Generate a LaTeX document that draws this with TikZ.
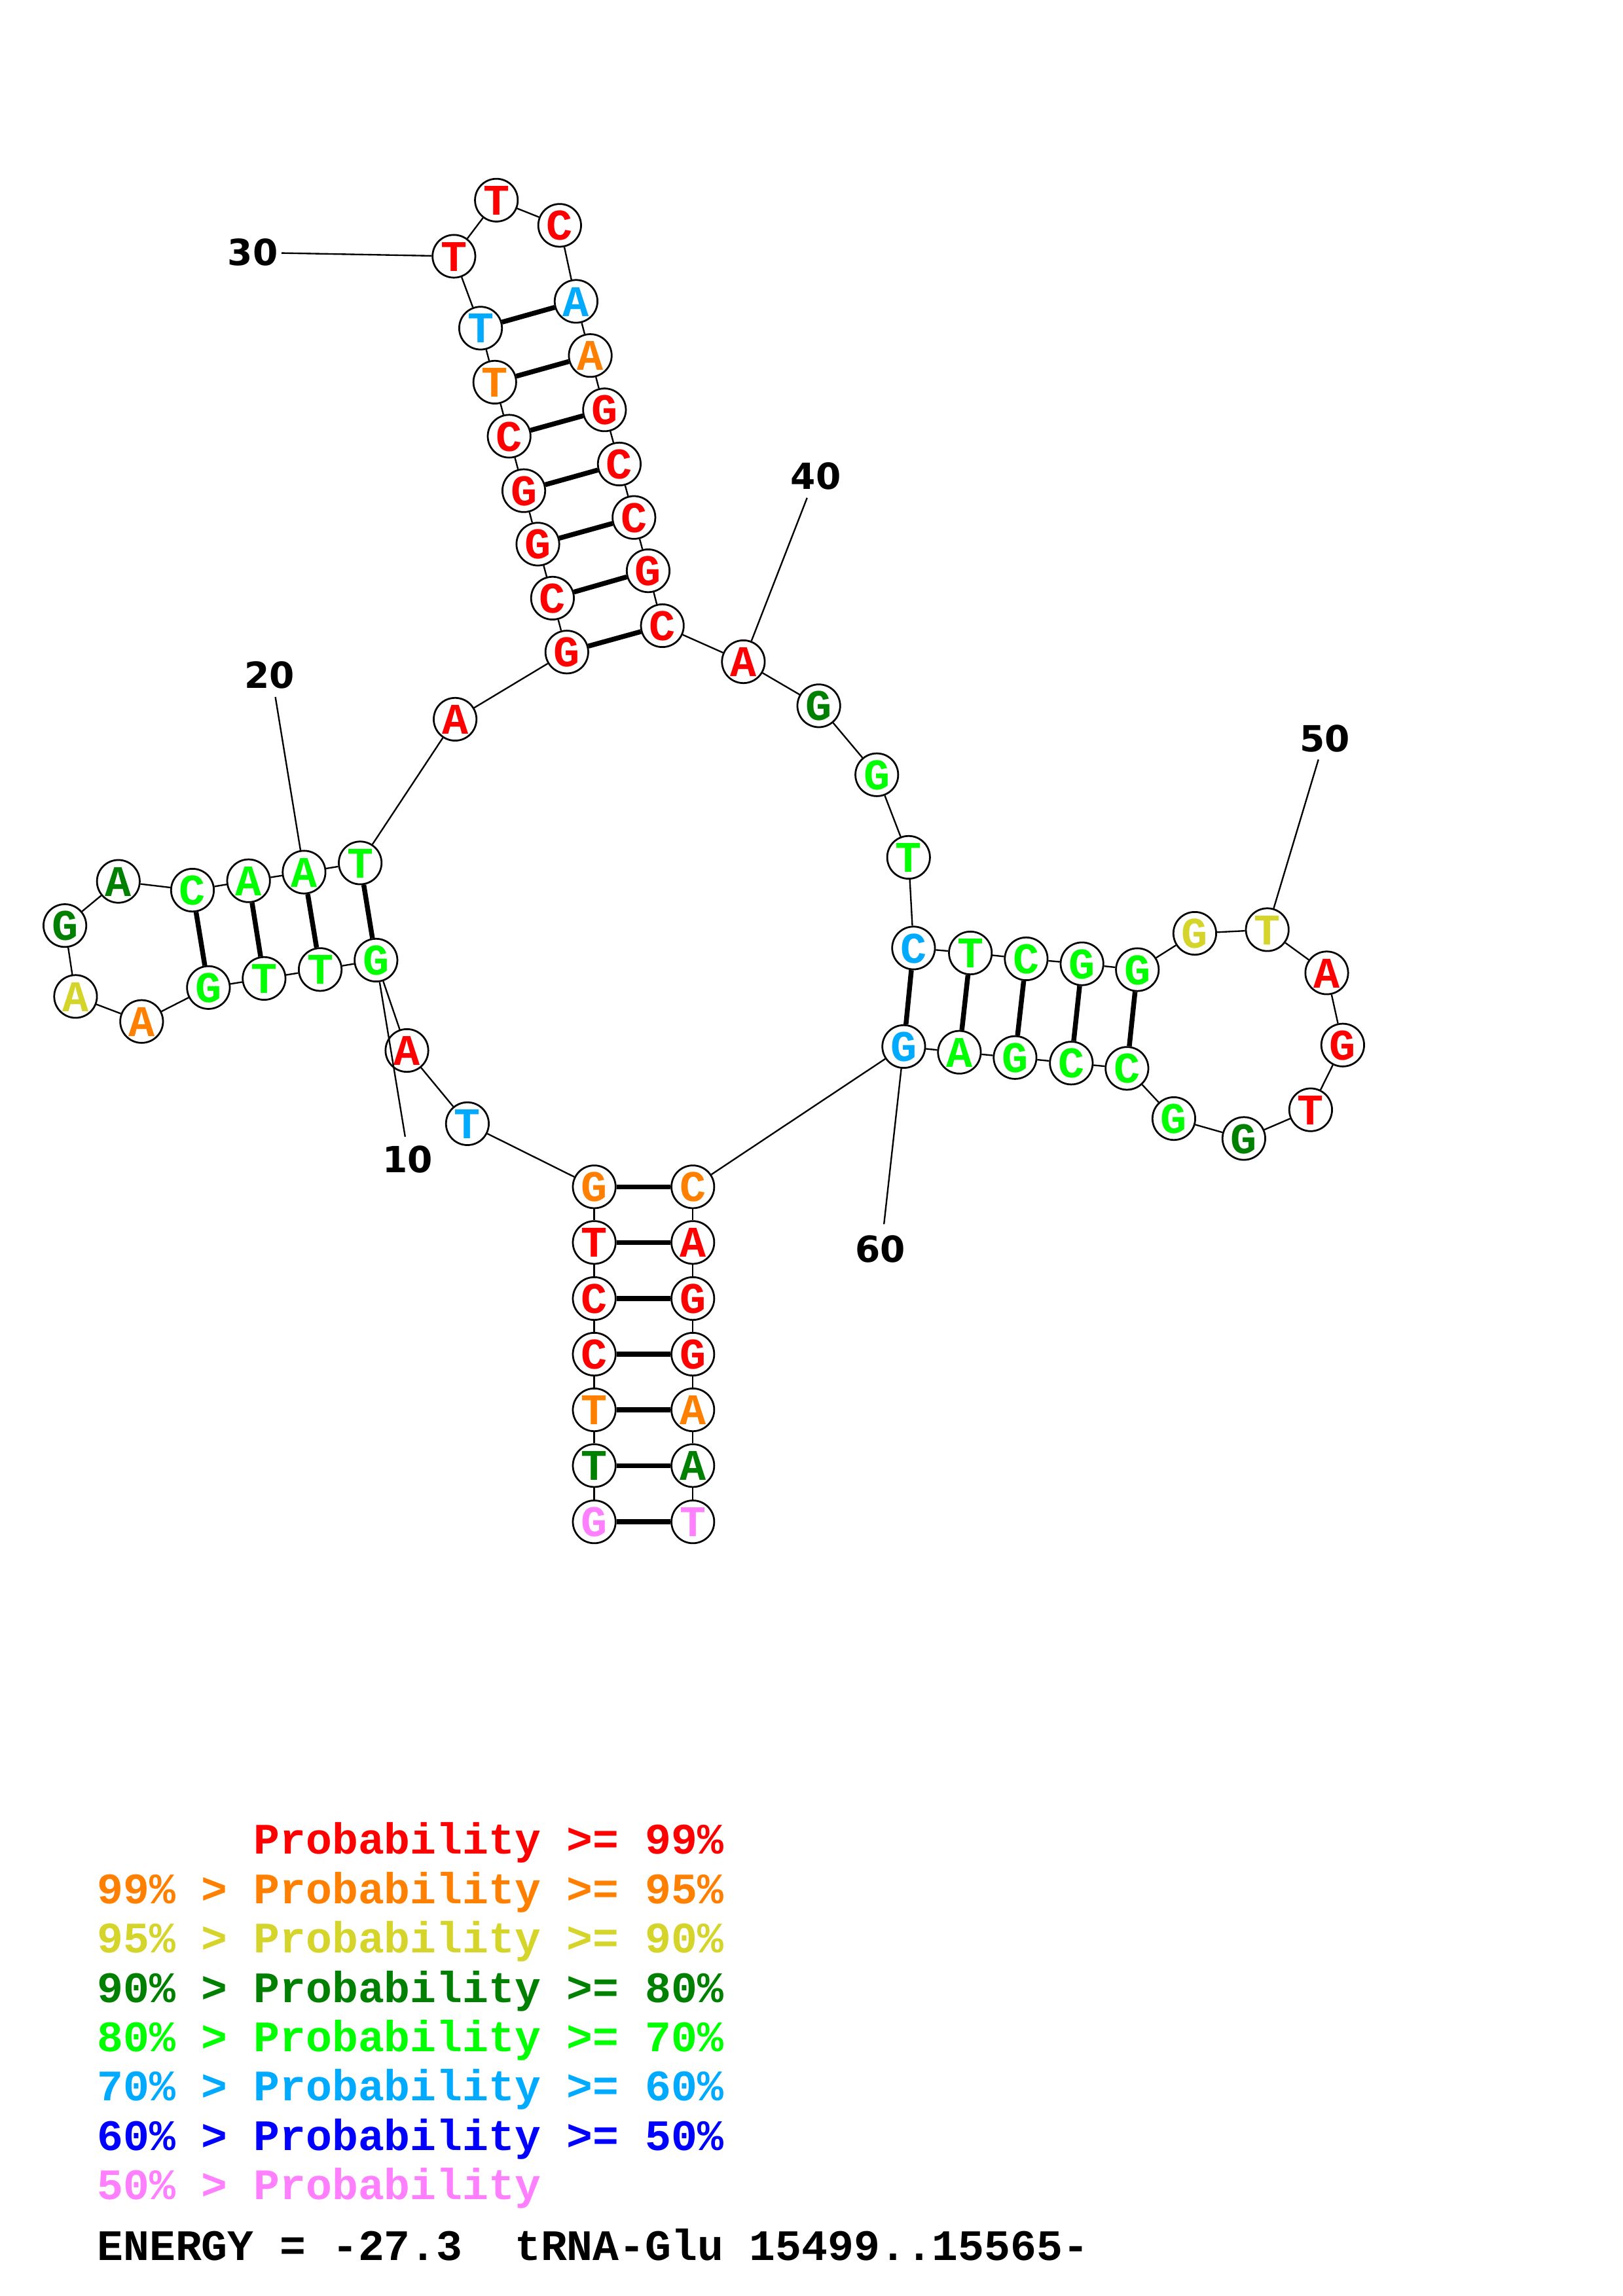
\documentclass[tikz,border=0pt]{standalone}
\usepackage{fontspec}
\newfontfamily\nucfont{Liberation Mono}
\newfontfamily\numfont{DejaVu Sans}
\definecolor{cred}{RGB}{255,0,0}
\definecolor{corange}{RGB}{255,128,0}
\definecolor{cyellow}{RGB}{212,212,42}
\definecolor{cdkgreen}{RGB}{0,128,0}
\definecolor{cgreen}{RGB}{0,255,0}
\definecolor{cltblue}{RGB}{0,170,255}
\definecolor{cblue}{RGB}{0,0,255}
\definecolor{cpink}{RGB}{255,128,255}
\begin{document}
\begin{tikzpicture}[x=0.02cm,y=-0.02cm,
  nt/.style={circle,draw,line width=0.7pt,fill=white,minimum size=0.584cm,inner sep=0pt,
    font=\nucfont\bfseries\fontsize{17}{17}\selectfont,text height=11.5pt,text depth=0pt},
  bb/.style={line width=0.6pt},
  bp/.style={line width=1.9pt},
  lbl/.style={font=\numfont\bfseries\fontsize{14}{14}\selectfont,inner sep=0pt},
  leg/.style={font=\nucfont\bfseries\fontsize{16.9}{16.9}\selectfont,anchor=base west,inner sep=0pt}]
\fill[white] (0,0) rectangle (1108,1568);
\useasboundingbox (0,0) rectangle (1108,1568);
% nucleotides
\foreach \i/\x/\y/\b/\c in {
 1/405.7/1039.3/G/cpink, 2/405.7/1000.9/T/cdkgreen, 3/405.7/962.8/T/corange,
 4/405.7/924.8/C/cred, 5/405.7/886.8/C/cred, 6/405.7/848.5/T/cred, 7/405.7/810.5/G/corange,
 8/319.1/767.4/T/cltblue, 9/277.8/717.4/A/cred, 10/256.7/655.7/G/cgreen,
 11/218.6/662.1/T/cgreen, 12/180.3/668.2/T/cgreen, 13/142.3/674.4/G/cgreen,
 14/96.7/697.6/A/corange, 15/51.6/680.5/A/cyellow, 16/44.3/632.1/G/cdkgreen,
 17/80.8/601.9/A/cdkgreen, 18/131.4/607.9/C/cgreen, 19/169.7/601.5/A/cgreen,
 20/207.6/595.6/A/cgreen, 21/245.9/589.3/T/cgreen, 22/310.7/491.2/A/cred,
 23/387.0/445.3/G/cred, 24/377.2/408.5/C/cred, 25/367.2/371.6/G/cred,
 26/357.6/335.1/G/cred, 27/347.6/297.9/C/cred, 28/337.8/261.0/T/corange,
 29/328.1/224.1/T/cltblue, 30/309.9/175.0/T/cred, 31/338.9/136.7/T/cred,
 32/382.1/153.9/C/cred, 33/393.3/205.8/A/cltblue, 34/403.0/242.8/A/corange,
 35/412.7/279.9/G/cred, 36/422.8/316.9/C/cred, 37/432.8/353.4/C/cred,
 38/442.5/389.8/G/cred, 39/452.2/427.3/C/cred, 40/507.5/451.9/A/cred,
 41/559.0/482.0/G/cdkgreen, 42/598.6/529.1/G/cgreen, 43/620.3/585.5/T/cgreen,
 44/623.7/647.4/C/cltblue, 45/662.5/650.8/T/cgreen, 46/700.6/654.8/C/cgreen,
 47/738.7/658.2/G/cgreen, 48/776.5/662.2/G/cgreen, 49/815.7/637.4/G/cyellow,
 50/865.2/634.9/T/cyellow, 51/905.8/664.4/A/cred, 52/916.7/713.7/G/cred,
 53/894.8/757.9/T/cred, 54/849.2/777.5/G/cdkgreen, 55/801.4/763.9/G/cgreen,
 56/769.4/729.6/C/cgreen, 57/731.4/726.0/C/cgreen, 58/693.0/722.2/G/cgreen,
 59/655.0/718.6/A/cgreen, 60/617.0/714.7/G/cltblue, 61/473.0/810.5/C/corange,
 62/473.0/848.5/A/cred, 63/473.0/886.8/G/cred, 64/473.0/924.8/G/cred,
 65/473.0/962.8/A/corange, 66/473.0/1000.9/A/cdkgreen, 67/473.0/1039.3/T/cpink}
 {\node[nt,text=\c] (n\i) at (\x,\y) {\b};}
% backbone
\foreach \i [evaluate=\i as \j using int(\i+1)] in {1,...,66}
 {\draw[bb] (n\i) -- (n\j);}
% base pairs
\foreach \a/\b in {1/67,2/66,3/65,4/64,5/63,6/62,7/61,10/21,11/20,12/19,13/18,
  23/39,24/38,25/37,26/36,27/35,28/34,29/33,44/60,45/59,46/58,47/57,48/56}
 {\draw[bp] (n\a) -- (n\b);}
% position labels
\node[lbl] (t10) at (278.4,791.7) {10};
\node[lbl] (t20) at (184.0,461.0) {20};
\node[lbl] (t30) at (172.6,172.3) {30};
\node[lbl] (t40) at (557.0,325.0) {40};
\node[lbl] (t50) at (904.6,504.2) {50};
\node[lbl] (t60) at (601.0,853.0) {60};
\coordinate (c10) at (276.6,776.3);
\coordinate (c20) at (188.0,476.0);
\coordinate (c30) at (192.2,172.8);
\coordinate (c40) at (551.0,340.0);
\coordinate (c50) at (900.1,518.7);
\coordinate (c60) at (603.5,836.0);
\draw[bb] (c10) -- (n10);
\draw[bb] (c20) -- (n20);
\draw[bb] (c30) -- (n30);
\draw[bb] (c40) -- (n40);
\draw[bb] (c50) -- (n50);
\draw[bb] (c60) -- (n60);
% legend
\node[leg,text=cred] (g1) at (66,1266.2) {\phantom{99\% > }Probability >= 99\%};
\node[leg,text=corange] (g2) at (66,1299.9) {99\% > Probability >= 95\%};
\node[leg,text=cyellow] (g3) at (66,1333.6) {95\% > Probability >= 90\%};
\node[leg,text=cdkgreen] (g4) at (66,1367.3) {90\% > Probability >= 80\%};
\node[leg,text=cgreen] (g5) at (66,1401.0) {80\% > Probability >= 70\%};
\node[leg,text=cltblue] (g6) at (66,1434.7) {70\% > Probability >= 60\%};
\node[leg,text=cblue] (g7) at (66,1468.4) {60\% > Probability >= 50\%};
\node[leg,text=cpink] (g8) at (66,1502.1) {50\% > Probability};
\node[leg,text=black] (g9) at (66,1543.8) {ENERGY = -27.3\ \ tRNA-Glu 15499..15565-};
\end{tikzpicture}
\end{document}
